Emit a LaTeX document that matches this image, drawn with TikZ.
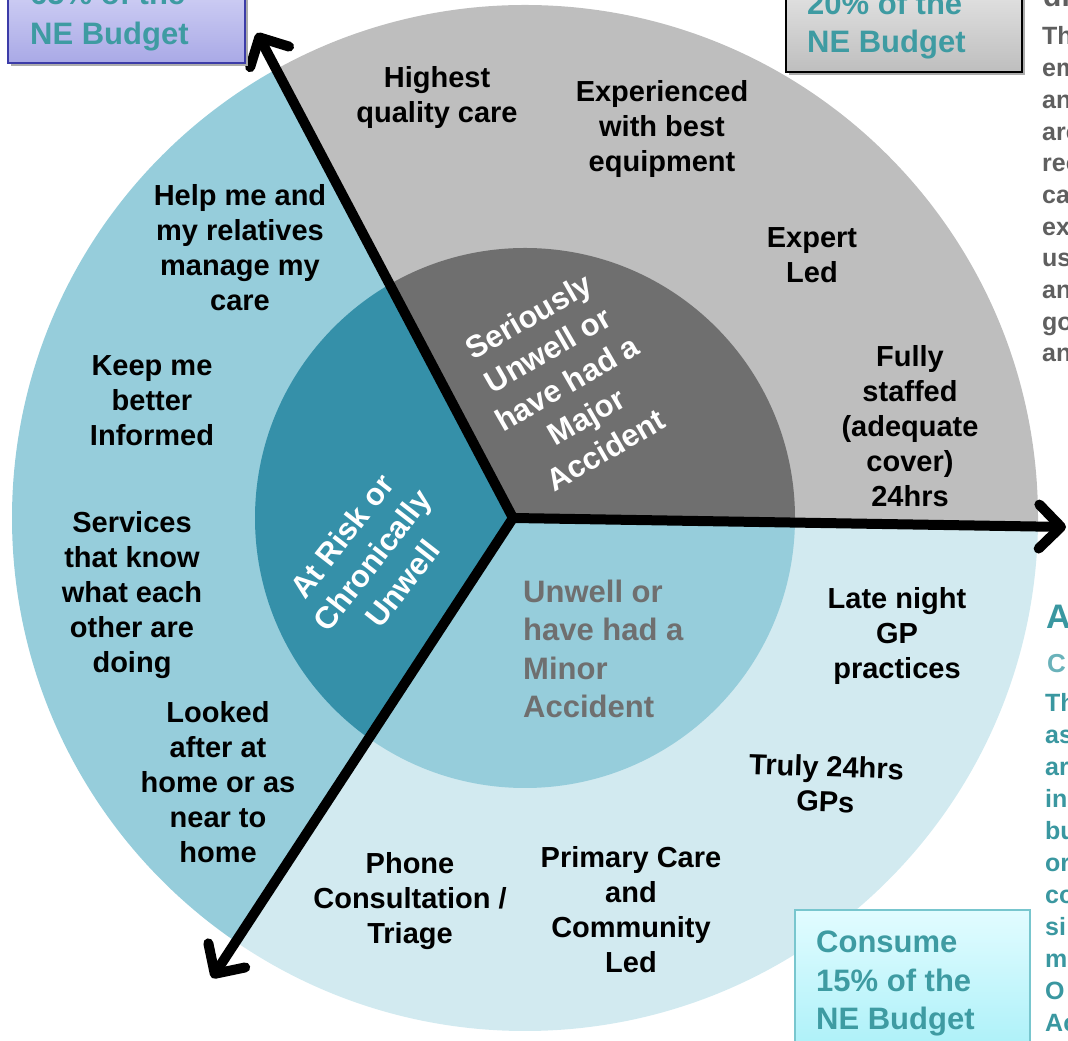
\documentclass[tikz,border=0pt]{standalone}
\usepackage{fontspec}
\setmainfont{Liberation Sans}
\usetikzlibrary{arrows.meta,calc}
\definecolor{greyOut}{HTML}{BEBEBE}
\definecolor{greyIn}{HTML}{6F6F6F}
\definecolor{blueOut}{HTML}{96CDDB}
\definecolor{tealIn}{HTML}{3590A9}
\definecolor{paleOut}{HTML}{D2EAF0}
\definecolor{paleIn}{HTML}{96CDDB}
\definecolor{boxText}{HTML}{3E9BA2}
\definecolor{sideGrey}{HTML}{5F5F5F}
\definecolor{sideTeal}{HTML}{3A97A0}
\definecolor{sideTealLight}{HTML}{6AB2BA}
\definecolor{innerGreyText}{HTML}{6F6F6F}
\definecolor{lavTop}{HTML}{D4D4F6}
\definecolor{lavBot}{HTML}{A9A9E6}
\definecolor{lavBorder}{HTML}{3C3CA8}
\definecolor{gryTop}{HTML}{E6E6E6}
\definecolor{gryBot}{HTML}{BEBEBE}
\definecolor{cyTop}{HTML}{E2FCFF}
\definecolor{cyBot}{HTML}{A8F0F8}
\definecolor{cyBorder}{HTML}{78C6CE}
\begin{document}
\begin{tikzpicture}[x=1pt,y=1pt,
  lbl/.style={font=\fontsize{29}{35}\selectfont\bfseries, align=center, text=black, inner sep=0pt},
  inlbl/.style={font=\fontsize{31}{38.5}\selectfont\bfseries, align=center, inner sep=0pt},
  boxtxt/.style={font=\fontsize{31}{38.5}\selectfont\bfseries, text=boxText, anchor=base west, inner sep=0pt},
  sidetxt/.style={font=\fontsize{25}{31}\selectfont\bfseries, anchor=base west, inner sep=0pt},
  arr/.style={line width=10pt, line cap=round, line join=round, -{Straight Barb[length=22pt,width=44pt,round]}}
]
\useasboundingbox (0,0) rectangle (1068,1041);
\clip (0,0) rectangle (1068,1041);

\coordinate (O) at (525,523);
\coordinate (J) at (513,523);
\coordinate (tl) at (257,1008);
\coordinate (rt) at (1066,514);
\coordinate (bl) at (212,63);

% grey sector (top right)
\begin{scope}
  \clip (J) -- ($(J)!3!(tl)$) -- (2500,2500) -- ($(J)!3!(rt)$) -- cycle;
  \fill[greyOut] (O) circle (513);
  \fill[greyIn] (O) circle (270);
\end{scope}
% pale sector (bottom right)
\begin{scope}
  \clip (J) -- ($(J)!3!(rt)$) -- (2500,-2000) -- ($(J)!3!(bl)$) -- cycle;
  \fill[paleOut] (O) circle (513);
  \fill[paleIn] (O) circle (270);
\end{scope}
% blue sector (left)
\begin{scope}
  \clip (J) -- ($(J)!3!(bl)$) -- (-2000,-2000) -- (-2000,2500) -- ($(J)!3!(tl)$) -- cycle;
  \fill[blueOut] (O) circle (513);
  \fill[tealIn] (O) circle (270);
\end{scope}

% arrows
\draw[arr] (J) -- (tl);
\draw[arr] (J) -- (rt);
\draw[arr] (J) -- (bl);

% inner labels
\node[inlbl, text=white, rotate=30] (serious) at (567,658) {Seriously\\Unwell or\\have had a\\Major\\Accident};
\node[inlbl, text=white, rotate=52] (atrisk) at (372,481) {At Risk or\\Chronically\\Unwell};
\node[inlbl, text=innerGreyText, align=left, anchor=west] (minor) at (523,392) {Unwell or\\have had a\\Minor\\Accident};

% outer labels
\node[lbl] (l1) at (437,943.5) {Highest\\quality care};
\node[lbl] (l2) at (662,912) {Experienced\\with best\\equipment};
\node[lbl] (l3) at (812,785.5) {Expert\\Led};
\node[lbl] (l4) at (910,614.6) {Fully\\staffed\\(adequate\\cover)\\24hrs};
\node[lbl] (l5) at (240,793) {Help me and\\my relatives\\manage my\\care};
\node[lbl] (l6) at (152,640) {Keep me\\better\\Informed};
\node[lbl] (l7) at (132,446.4) {Services\\that know\\what each\\other are\\doing};
\node[lbl] (l8) at (218,258.6) {Looked\\after at\\home or as\\near to\\home};
\node[lbl] (l9) at (410,140.3) {Phone\\Consultation /\\Triage};
\node[lbl] (l10) at (631,131.5) {Primary Care\\and\\Community\\Led};
\node[lbl, rotate=-2] (l11) at (826,257) {Truly 24hrs\\GPs};
\node[lbl] (l12) at (897,405) {Late night\\GP\\practices};

% top-left budget box
\fill[gray!65] (11,975) rectangle (248,1060);
\shade[top color=lavTop, bottom color=lavBot] (8,978) rectangle (245,1060);
\draw[line width=2pt, draw=lavBorder] (8,978) rectangle (245,1060);
\node[boxtxt] (tlb1) at (30,1036) {65\% of the};
\node[boxtxt] (tlb2) at (30,996.5) {NE Budget};

% top-right budget box
\fill[gray!65] (789,966) rectangle (1025,1060);
\shade[top color=gryTop, bottom color=gryBot] (786,969) rectangle (1022,1060);
\draw[line width=2pt, draw=black] (786,969) rectangle (1022,1060);
\node[boxtxt] (trb1) at (807,1026) {20\% of the};
\node[boxtxt] (trb2) at (807,988) {NE Budget};

% bottom-right budget box
\shade[top color=cyTop, bottom color=cyBot] (795,-20) rectangle (1030,131);
\draw[line width=2pt, draw=cyBorder] (795,-20) rectangle (1030,131);
\node[boxtxt] (brb1) at (816,88) {Consume};
\node[boxtxt] (brb2) at (816,49.5) {15\% of the};
\node[boxtxt] (brb3) at (816,11) {NE Budget};

% right column, top (grey)
\node[sidetxt, text=sideGrey, font=\fontsize{30}{36}\selectfont\bfseries] (g0) at (1043,1034) {di};
\foreach \t [count=\i from 1] in {Th,em,an,are,rec,ca,ex,us,an,go,an}{
  \node[sidetxt, text=sideGrey] (g\i) at (1042,{996-31.7*(\i-1)}) {\t};
}

% right column, bottom (teal)
\node[sidetxt, text=sideTeal, font=\fontsize{34}{40}\selectfont\bfseries] (ta) at (1046,412) {A};
\node[sidetxt, text=sideTealLight, font=\fontsize{26}{32}\selectfont\bfseries] (tc) at (1047,368) {C};
\foreach \t [count=\i from 1] in {Th,as,ar,in,bu,or,co,si,m,O,Ac}{
  \node[sidetxt, text=sideTeal] (t\i) at (1045,{329.5-32*(\i-1)}) {\t};
}
\end{tikzpicture}
\end{document}
